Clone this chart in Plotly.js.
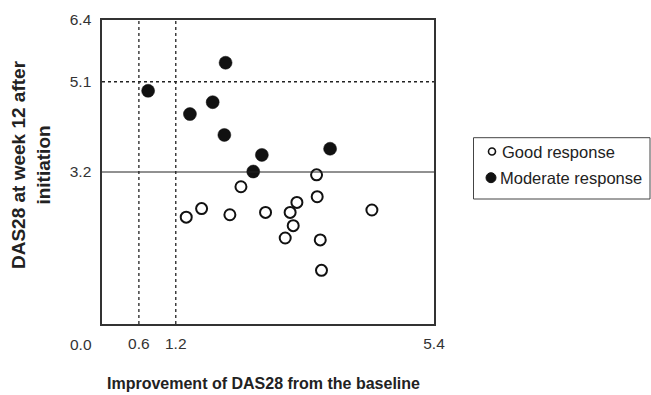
<!DOCTYPE html>
<html>
<head>
<meta charset="utf-8">
<script src="https://cdn.plot.ly/plotly-3.0.1.min.js"></script>
<style>html,body{margin:0;padding:0;background:#fff;}#chart{width:651px;height:395px;}</style>
</head>
<body>
<div id="chart"></div>
<script>
// Good response (open circles)
const goodX = [3.49, 2.26, 3.50, 3.17, 1.62, 1.37, 2.08, 2.66, 3.06, 4.39, 3.11, 2.98, 3.55, 3.57];
const goodY = [3.14, 2.89, 2.68, 2.56, 2.43, 2.25, 2.30, 2.35, 2.35, 2.40, 2.07, 1.81, 1.77, 1.13];
// Moderate response (filled circles)
const modX = [2.01, 0.75, 1.80, 1.43, 1.99, 2.60, 3.71, 2.46];
const modY = [5.50, 4.91, 4.67, 4.42, 3.98, 3.56, 3.69, 3.21];
// Axis ticks and reference lines
const xTickVals = [0.6, 1.2, 5.4];
const xTickText = ["0.6", "1.2", "5.4"];
const yTickVals = [3.2, 5.1, 6.4];
const yTickText = ["3.2", "5.1", "6.4"];
const xRefLines = [0.6, 1.2];
const yDottedLine = 5.1;
const ySolidLine = 3.2;
const xRange = [0, 5.4];
const yRange = [0, 6.4];
const seriesNames = ["Good response", "Moderate response"];

const font = "Liberation Sans, Arial, sans-serif";

const traces = [
  {
    x: goodX, y: goodY, type: 'scatter', mode: 'markers', name: seriesNames[0],
    marker: {symbol: 'circle', size: 11, color: '#ffffff', line: {color: '#111', width: 2}}
  },
  {
    x: modX, y: modY, type: 'scatter', mode: 'markers', name: seriesNames[1],
    marker: {symbol: 'circle', size: 13, color: '#111', line: {color: '#111', width: 0.5}}
  }
];

// plot area in pixels: x 102..434, y 20..324
const L = 102, R = 434, T = 20, B = 324;
const px = v => (v - L) / (R - L);
const py = v => (B - v) / (B - T);

const shapes = [];
xRefLines.forEach(v => shapes.push({type: 'line', xref: 'x', yref: 'paper', x0: v, x1: v, y0: 0, y1: 1,
  line: {color: '#222', width: 1.3, dash: 'dot'}}));
shapes.push({type: 'line', xref: 'paper', yref: 'y', x0: 0, x1: 1, y0: yDottedLine, y1: yDottedLine,
  line: {color: '#222', width: 1.3, dash: 'dot'}});
shapes.push({type: 'line', xref: 'paper', yref: 'y', x0: 0, x1: 1, y0: ySolidLine, y1: ySolidLine,
  line: {color: '#222', width: 1}});
// legend box
shapes.push({type: 'rect', xref: 'paper', yref: 'paper', x0: px(473.5), x1: px(650), y0: py(199), y1: py(137.7),
  line: {color: '#444', width: 1}, fillcolor: 'rgba(0,0,0,0)'});
// legend symbols
shapes.push({type: 'circle', xref: 'paper', yref: 'paper', xsizemode: 'pixel', ysizemode: 'pixel',
  xanchor: px(492), yanchor: py(151.5), x0: -3.5, x1: 3.5, y0: -3.5, y1: 3.5,
  line: {color: '#111', width: 1.6}, fillcolor: '#fff'});
shapes.push({type: 'circle', xref: 'paper', yref: 'paper', xsizemode: 'pixel', ysizemode: 'pixel',
  xanchor: px(491), yanchor: py(177.7), x0: -5, x1: 5, y0: -5, y1: 5,
  line: {color: '#111', width: 1}, fillcolor: '#111'});

const layout = {
  width: 651, height: 395,
  margin: {l: L, r: 651 - R, t: T, b: 395 - B},
  paper_bgcolor: '#fff', plot_bgcolor: '#fff',
  font: {family: font, size: 15.5, color: '#333'},
  showlegend: false,
  xaxis: {
    range: xRange, showgrid: false, zeroline: false,
    tickvals: xTickVals, ticktext: xTickText, ticks: '',
    showline: true, linecolor: '#333', linewidth: 1.6, mirror: true,
    tickfont: {family: font, size: 15.5, color: '#333'},
    ticklabelstandoff: 5
  },
  yaxis: {
    range: yRange, showgrid: false, zeroline: false,
    tickvals: yTickVals, ticktext: yTickText, ticks: '',
    showline: true, linecolor: '#333', linewidth: 1.6, mirror: true,
    tickfont: {family: font, size: 15.5, color: '#333'},
    ticklabelstandoff: 6
  },
  shapes: shapes,
  annotations: [
    {text: '0.0', xref: 'paper', yref: 'paper', x: 0, y: 0, xanchor: 'center', yanchor: 'middle',
      xshift: -21, yshift: -20, showarrow: false, font: {family: font, size: 15.5, color: '#333'}},
    {text: '<b>Improvement of DAS28 from the baseline</b>', xref: 'paper', yref: 'paper',
      x: px(263), y: py(383), xanchor: 'center', yanchor: 'middle', showarrow: false,
      font: {family: font, size: 16, color: '#222'}},
    {text: '<b>DAS28 at week 12 after<br>initiation</b>', xref: 'paper', yref: 'paper',
      x: px(31), y: py(165), textangle: -90, showarrow: false,
      xanchor: 'center', yanchor: 'middle',
      font: {family: font, size: 19, color: '#222'}},
    {text: seriesNames[0], xref: 'paper', yref: 'paper', x: px(500), y: py(151.5),
      xanchor: 'left', yanchor: 'middle', showarrow: false,
      font: {family: font, size: 16.5, color: '#222'}},
    {text: seriesNames[1], xref: 'paper', yref: 'paper', x: px(497.5), y: py(177.7),
      xanchor: 'left', yanchor: 'middle', showarrow: false,
      font: {family: font, size: 16.5, color: '#222'}}
  ]
};

Plotly.newPlot('chart', traces, layout, {displayModeBar: false, staticPlot: true});
</script>
</body>
</html>
